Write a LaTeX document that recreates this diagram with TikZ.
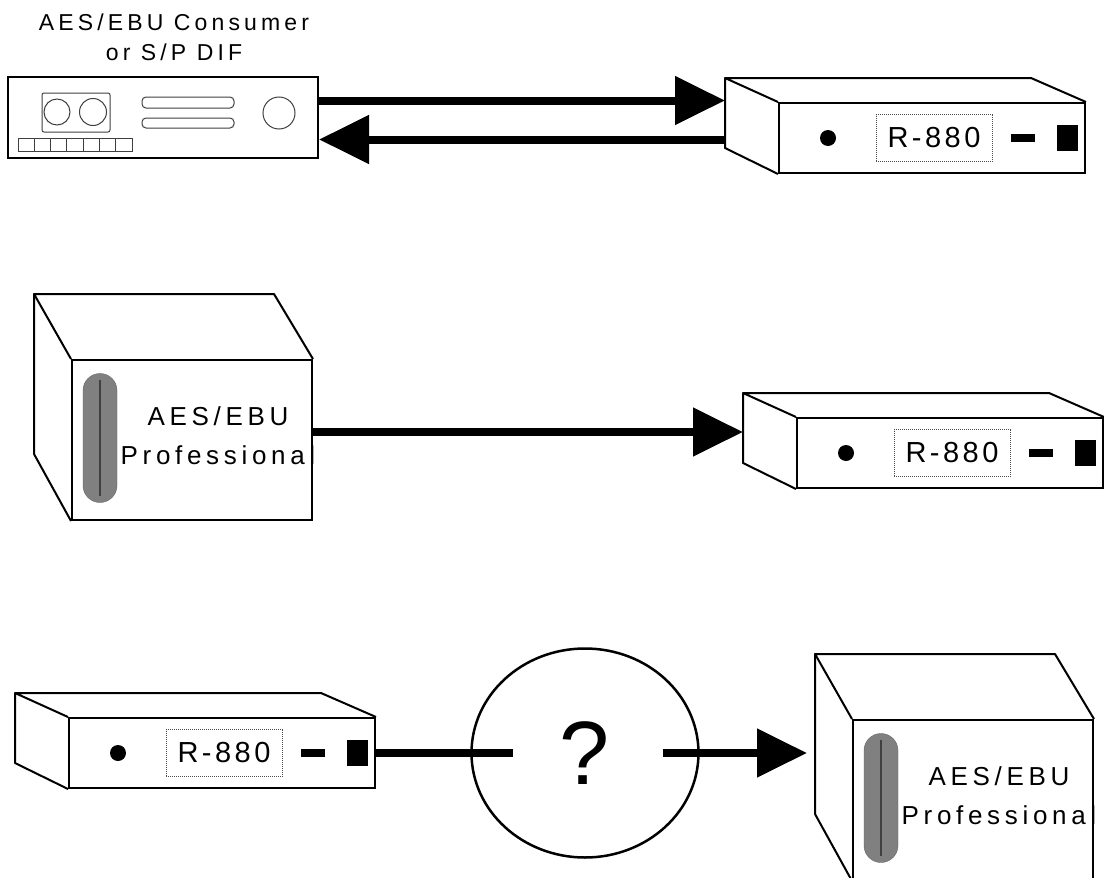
\documentclass[tikz,border=0pt]{standalone}
\usepackage{fontspec}
\usetikzlibrary{arrows.meta, positioning, shapes.geometric}
\newfontfamily\plotfont[LetterSpace=18]{Liberation Sans}
\newfontfamily\lcdfont[LetterSpace=12]{Liberation Sans}
\newfontfamily\plainfont{Liberation Sans}

\begin{document}
\begin{tikzpicture}[
    x=1pt, y=-1pt,
    edge/.style={line width=2pt, line join=round},
    fine/.style={line width=1pt, black!75},
    sig/.style={line width=8pt, -{Triangle[length=50pt, width=47pt]}},
    wire/.style={line width=8pt},
    lcd/.style={draw=black!70, densely dotted, line width=1pt,
                minimum width=116pt, minimum height=47pt, inner sep=0pt,
                text=black, font=\lcdfont\fontsize{29}{29}\selectfont},
    legend/.style={font=\plotfont\fontsize{23}{30}\selectfont, align=center},
    prolabel/.style={font=\plotfont\fontsize{26}{39}\selectfont, align=center},
    grille/.style={draw=black!60, fill=black!50, minimum width=34pt,
                   minimum height=129pt, rounded corners=17pt, inner sep=0pt},
    % flat rack unit with the display
    r880/.pic={
      \node[draw, line width=2pt, minimum width=306pt, minimum height=70pt,
            inner sep=0pt] (-face) at (0,0) {};
      \draw[edge] (-face.north west) -- ++(-53,-24) coordinate (-btl)
        -- ++(306,0) -- (-face.north east);
      \draw[edge] (-btl) -- ++(0,70) -- (-face.south west);
      \path (-btl) ++(0,35) coordinate (-back);
      \fill (-104,0) circle[radius=8pt];
      \node[lcd] (-lcd) at (2,0) {R-880};
      \fill (79,-4) rectangle (103,4);
      \fill (125,-13) rectangle (146,13);
    },
    % tall box with the grille
    pro/.pic={
      \node[draw, line width=2pt, minimum width=240pt, minimum height=160pt,
            inner sep=0pt] (-face) at (0,0) {};
      \draw[edge] (-face.north west) -- ++(-37,-65) coordinate (-btl)
        -- ++(240,0) -- (-face.north east);
      \draw[edge] (-btl) -- ++(0,160) -- (-face.south west);
      \path (-btl) ++(0,80) coordinate (-back);
      \node[grille] (-grille) at (-92,-2) {};
      \draw[black!75, line width=1.2pt] (-92,-60) -- (-92,56);
      \node[prolabel] (-text) at (26,-4) {AES/EBU\\Professional};
    }
  ]
  \useasboundingbox[fill=white] (0,0) rectangle (1104,878);

  % --- consumer deck <-> R-880
  \node[legend] (conslabel) at (174,37) {AES/EBU Consumer\\or S/P DIF};
  \node[draw, line width=2pt, minimum width=310pt, minimum height=81pt,
        inner sep=0pt] (cons) at (163,117.5) {};
  \draw[fine, rounded corners=2pt] (42,93) rectangle (110,132);
  \draw[fine] (57,112) circle[radius=13pt] (93,112) circle[radius=13.5pt];
  \foreach \i in {0,...,6}
    \draw[fine] (18+\i*16.3,138) rectangle ++(16.3,13);
  \draw[fine, rounded corners=4pt] (142,97) rectangle (234,108);
  \draw[fine, rounded corners=4pt] (142,118) rectangle (234,128);
  \draw[fine] (279,113) circle[radius=16pt];

  \pic (r1) at (932,138) {r880};
  \coordinate (txA) at ([yshift=17pt]cons.east);
  \coordinate (rxA) at ([yshift=-22pt]cons.east);
  \draw[sig] (txA) -- (txA -| r1-back);
  \draw[sig] (rxA -| r1-back) -- (rxA);

  % --- professional source -> R-880
  \pic (pro1) at (192,440) {pro};
  \pic (r2) at (950,453) {r880};
  \coordinate (txB) at ([yshift=8pt]pro1-face.east);
  \draw[sig] (txB) -- (txB -| r2-back);

  % --- R-880 -> ? -> professional input
  \pic (r3) at (222,753) {r880};
  \node[ellipse, draw, line width=2.5pt, minimum width=227pt,
        minimum height=209pt, inner sep=0pt,
        font=\plainfont\fontsize{90}{90}\selectfont] (qm) at (585,753) {?};
  \pic (pro2) at (973,800) {pro};
  \draw[wire] (r3-face.east) -- ([xshift=-72pt]qm.center);
  \draw[sig, shorten >=8pt] ([xshift=78pt]qm.center) -- (qm.center -| pro2-back);
\end{tikzpicture}
\end{document}
